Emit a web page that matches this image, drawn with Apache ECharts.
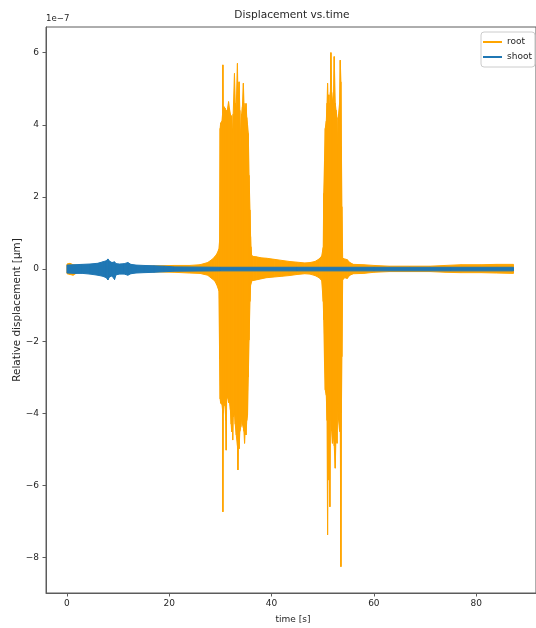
<!DOCTYPE html>
<html>
<head>
<meta charset="utf-8">
<script src="https://cdn.jsdelivr.net/npm/echarts@6/dist/echarts.min.js"></script>
<style>
  html, body { margin: 0; padding: 0; background: #fff; }
  #chart { width: 536px; height: 628px; }
</style>
</head>
<body>
<div id="chart"></div>
<script>
// Displacement signals in units of 1e-7 µm: envelope (upper/lower) of each trace over time [s]
const seriesNames = ['root', 'shoot'];

const rootTime = [
  0.0, 0.6, 1.2, 2.0, 3.0, 6.0, 10.0, 14.0, 18.0, 21.0, 24.0, 26.0, 27.5, 28.3, 28.9, 29.3, 29.7, 29.85, 29.95,
  30.05, 30.3, 30.42, 30.48, 30.55, 30.7, 30.9, 31.05, 31.13, 31.22, 31.4, 31.59, 31.75, 31.95, 32.1, 32.2, 32.32, 32.4,
  32.5, 32.75, 32.9, 33.1, 33.33, 33.42, 33.55, 33.65, 33.8, 34.0, 34.15, 34.3, 34.49, 34.6, 34.72, 34.85, 35.0, 35.15,
  35.3, 35.45, 35.6, 35.78, 35.9, 35.97, 36.1,
  36.4, 37.0, 38.0, 39.0, 40.5, 42.0, 43.5, 45.0, 46.5, 47.5, 48.5, 49.3, 49.8, 50.1, 50.2, 50.35, 50.5,
  50.7, 50.85, 50.95, 51.05, 51.2, 51.3, 51.4, 51.5, 51.6, 51.75, 51.9, 52.1, 52.25, 52.45, 52.6, 52.8, 52.9, 53.1,
  53.3, 53.43, 53.56, 53.65, 53.75, 53.9,
  54.3, 54.8, 55.3, 56.0, 58.0, 60.0, 63.0, 67.0, 71.0, 74.0, 77.0, 81.0, 84.0, 87.3
];
const rootUpper = [
  0.14, 0.16, 0.12, 0.10, 0.08, 0.09, 0.08, 0.08, 0.09, 0.10, 0.10, 0.12, 0.18, 0.26, 0.34, 0.42, 0.55, 0.8, 3.9,
  4.05, 4.1, 4.3, 5.66, 4.4, 4.5, 4.46, 4.3, 4.4, 4.35, 4.45, 4.64, 4.46, 4.3, 4.2, 4.25, 3.9, 3.35,
  4.3, 5.42, 4.6, 4.5, 5.70, 4.8, 4.9, 5.19, 4.4, 3.39, 4.3, 4.5, 5.15, 4.6, 4.4, 4.3, 4.59, 4.2,
  4.0, 3.76, 2.6, 1.64, 0.9, 0.62, 0.38,
  0.35, 0.34, 0.31, 0.30, 0.27, 0.24, 0.21, 0.19, 0.17, 0.18, 0.21, 0.28, 0.36, 0.6, 2.1, 3.0, 3.9,
  4.1, 4.6, 5.15, 4.5, 4.83, 3.6, 4.6, 4.9, 6.0, 4.9, 4.7, 4.6, 5.89, 4.6, 4.41, 4.2, 3.39, 4.3,
  4.6, 5.79, 5.19, 3.4, 1.73, 0.3,
  0.28, 0.26, 0.18, 0.13, 0.12, 0.10, 0.08, 0.08, 0.08, 0.10, 0.12, 0.12, 0.13, 0.13
];
const rootLower = [
  -0.13, -0.15, -0.17, -0.10, -0.09, -0.08, -0.08, -0.07, -0.08, -0.09, -0.11, -0.12, -0.17, -0.26, -0.33, -0.44, -0.6, -2.5, -3.6,
  -3.72, -3.75, -3.9, -6.73, -4.0, -3.7, -3.8, -4.2, -5.02, -3.6, -3.55, -3.7, -3.65, -3.9, -4.3, -4.51, -4.2, -4.74,
  -4.1, -4.0, -4.3, -4.6, -4.9, -5.57, -4.7, -4.98, -4.5, -4.37, -4.1, -4.3, -4.4, -4.5, -4.83, -4.4, -4.6, -4.2,
  -4.05, -3.0, -1.97, -0.9, -0.45, -0.4, -0.33,
  -0.32, -0.30, -0.27, -0.24, -0.22, -0.20, -0.18, -0.15, -0.13, -0.14, -0.18, -0.24, -0.32, -0.9, -1.41, -2.6, -3.35,
  -3.5, -4.2, -7.37, -4.5, -5.85, -4.4, -6.59, -4.2, -3.9, -4.5, -4.83, -4.6, -4.9, -5.52, -4.6, -4.83, -3.72, -4.2,
  -4.5, -4.4, -8.25, -4.0, -2.43, -0.3,
  -0.24, -0.26, -0.17, -0.13, -0.12, -0.09, -0.07, -0.07, -0.07, -0.09, -0.10, -0.10, -0.11, -0.12
];

const shootTime = [
  0.0, 1.5, 3.0, 4.5, 6.0, 7.0, 7.7, 8.0, 8.3, 8.8, 9.3, 9.6, 10.3, 11.2, 11.9, 12.5, 13.5, 15.0, 17.0, 19.0,
  21.0, 30.0, 45.0, 60.0, 75.0, 87.3
];
const shootUpper = [
  0.11, 0.12, 0.13, 0.14, 0.16, 0.20, 0.23, 0.28, 0.22, 0.18, 0.20, 0.15, 0.14, 0.15, 0.18, 0.13, 0.11, 0.10, 0.09, 0.08,
  0.06, 0.05, 0.05, 0.05, 0.05, 0.05
];
const shootLower = [
  -0.11, -0.12, -0.12, -0.14, -0.17, -0.20, -0.24, -0.30, -0.22, -0.19, -0.29, -0.16, -0.14, -0.14, -0.17, -0.13, -0.11, -0.10, -0.09, -0.075,
  -0.06, -0.05, -0.05, -0.05, -0.05, -0.05
];

const xTicks = [0, 20, 40, 60, 80];
const yTicks = [-8, -6, -4, -2, 0, 2, 4, 6];

const colors = { root: '#FFA500', shoot: '#1f77b4' };
const textColor = '#262626';
const spineColor = '#5c5c5c';
const font = 'DejaVu Sans';

// Fills the band between the upper and lower envelope, one quad per interval
function bandRenderer(times, ups, los, color) {
  return function (params, api) {
    const i = params.dataIndex;
    if (i >= times.length - 1) return null;
    const p1 = api.coord([times[i], ups[i]]);
    const p2 = api.coord([times[i + 1], ups[i + 1]]);
    const p3 = api.coord([times[i + 1], los[i + 1]]);
    const p4 = api.coord([times[i], los[i]]);
    return {
      type: 'polygon',
      shape: { points: [p1, p2, p3, p4] },
      style: { fill: color, stroke: color, lineWidth: 1 }
    };
  };
}

function rows(times, ups, los) {
  return times.map((t, i) => [t, ups[i], los[i]]);
}

const chart = echarts.init(document.getElementById('chart'), null, { renderer: 'canvas' });

chart.setOption({
  animation: false,
  backgroundColor: '#fff',
  textStyle: { fontFamily: font },
  grid: {
    left: 46, top: 27, right: -5, bottom: 35,
    show: true, borderColor: spineColor, borderWidth: 1
  },
  xAxis: {
    type: 'value',
    min: -4.1, max: 91.7,
    axisLine: { show: true, onZero: false, lineStyle: { color: spineColor, width: 1 } },
    axisTick: { show: true, length: 3.5, customValues: xTicks, lineStyle: { color: spineColor } },
    axisLabel: { customValues: xTicks, margin: 6, color: textColor, fontSize: 9, fontFamily: font },
    splitLine: { show: false }
  },
  yAxis: {
    type: 'value',
    min: -8.98, max: 6.71,
    axisLine: { show: true, onZero: false, lineStyle: { color: spineColor, width: 1 } },
    axisTick: { show: true, length: 3.5, customValues: yTicks, lineStyle: { color: spineColor } },
    axisLabel: {
      customValues: yTicks, margin: 7, color: textColor, fontSize: 9, fontFamily: font,
      formatter: v => String(v).replace('-', '\u2212')
    },
    splitLine: { show: false }
  },
  legend: {
    orient: 'vertical',
    left: 481, top: 32,
    padding: [4, 3, 4, 2],
    itemWidth: 19, itemHeight: 2, itemGap: 3,
    backgroundColor: 'rgba(255,255,255,0.8)',
    borderColor: '#cccccc', borderWidth: 1, borderRadius: 3,
    textStyle: { color: textColor, fontSize: 9, fontFamily: font, lineHeight: 12 },
    data: seriesNames.map(n => ({ name: n, icon: 'rect', itemStyle: { color: colors[n] } }))
  },
  graphic: [
    { type: 'text', x: 292, y: 15,
      style: { text: 'Displacement vs.time', fill: textColor, fontSize: 10.6, fontFamily: font, align: 'center', verticalAlign: 'middle' } },
    { type: 'text', x: 46, y: 19,
      style: { text: '1e\u22127', fill: textColor, fontSize: 8.6, fontFamily: font, align: 'left', verticalAlign: 'middle' } },
    { type: 'text', x: 293, y: 620,
      style: { text: 'time [s]', fill: textColor, fontSize: 9, fontFamily: font, align: 'center', verticalAlign: 'middle' } },
    { type: 'text', x: 17, y: 310, rotation: Math.PI / 2,
      style: { text: 'Relative displacement [\u00b5m]', fill: textColor, fontSize: 10.4, fontFamily: font, align: 'center', verticalAlign: 'middle' } }
  ],
  series: [
    {
      name: 'root', type: 'custom', coordinateSystem: 'cartesian2d', clip: true,
      itemStyle: { color: colors.root },
      encode: { x: 0, y: [1, 2] },
      data: rows(rootTime, rootUpper, rootLower),
      renderItem: bandRenderer(rootTime, rootUpper, rootLower, colors.root),
      z: 2
    },
    {
      name: 'shoot', type: 'custom', coordinateSystem: 'cartesian2d', clip: true,
      itemStyle: { color: colors.shoot },
      encode: { x: 0, y: [1, 2] },
      data: rows(shootTime, shootUpper, shootLower),
      renderItem: bandRenderer(shootTime, shootUpper, shootLower, colors.shoot),
      z: 3
    }
  ]
});
</script>
</body>
</html>
